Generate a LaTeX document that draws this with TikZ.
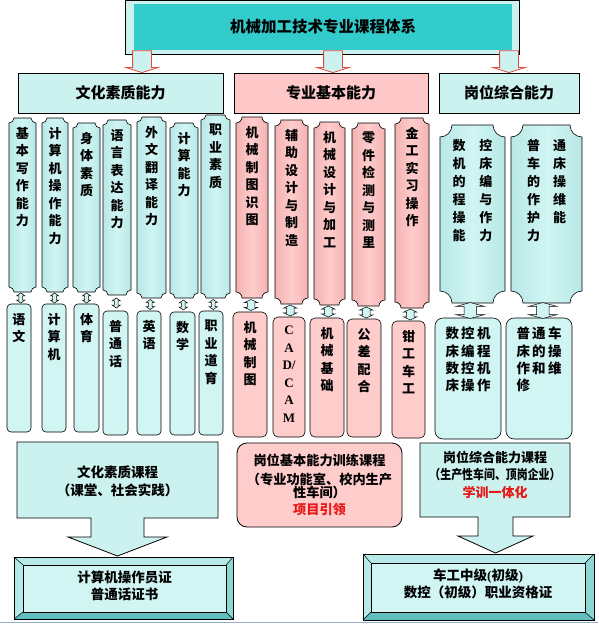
\documentclass[tikz,border=0pt]{standalone}
\usepackage{fontspec}
\usepackage{graphicx}
\usepackage{tikz}
\usetikzlibrary{calc,backgrounds,shapes.arrows}
\setmainfont{Noto Sans CJK SC}
\newfontfamily\latinserif{Liberation Serif}

\definecolor{boxcyan}{RGB}{208,245,243}
\definecolor{edgecyan}{RGB}{184,232,230}
\definecolor{boxpink}{RGB}{255,204,204}
\definecolor{edgepink}{RGB}{244,178,178}
\definecolor{cyanlt}{RGB}{204,242,240}
\definecolor{pinklt}{RGB}{255,200,200}
\definecolor{tealtitle}{RGB}{51,204,204}
\definecolor{redtxt}{RGB}{232,24,24}
\definecolor{redline}{RGB}{226,74,62}
\definecolor{bevellt}{RGB}{182,234,232}
\definecolor{bevelmd}{RGB}{140,214,212}
\definecolor{beveldk}{RGB}{96,190,190}
\definecolor{winline}{RGB}{150,172,204}

\begin{document}
\begin{tikzpicture}[x=1pt,y=-1pt,
  cbox/.style 2 args={anchor=north west, inner sep=0pt, outer sep=0pt,
    minimum width=#1, minimum height=#2},
  head/.style={draw, line width=.8pt, inner sep=0pt,
    font=\fontsize{15}{18}\selectfont\bfseries},
  vt/.style={anchor=north, yshift=-9pt, align=center, inner sep=0pt,
    font=\fontsize{13}{17.5}\selectfont\bfseries},
  vtwide/.style={vt, yshift=-5pt, align=left,
    font=\fontsize{13}{18}\selectfont\bfseries},
  lowbox/.style={draw, line width=.6pt, fill=boxcyan, rounded corners=4pt},
  lowpink/.style={lowbox, fill=boxpink, rounded corners=5pt},
  lowwide/.style={lowbox, rounded corners=8pt},
  bodytxt/.style={align=center, inner sep=0pt,
    font=\fontsize{13.5}{17.5}\selectfont\bfseries},
  certbox/.style={draw, line width=.8pt, fill=boxcyan},
  toparr/.style={single arrow, shape border rotate=270, anchor=tip,
    draw=redline, line width=.8pt, fill=cyanlt, inner sep=9pt,
    single arrow head extend=7pt, single arrow tip angle=145,
    minimum height=13},
  dblS/.style={double arrow, shape border rotate=90, draw, line width=.5pt,
    fill=boxcyan, inner sep=1.6pt, double arrow head extend=2.4pt,
    double arrow tip angle=110, minimum height=10},
  dblM/.style={dblS, inner sep=3.5pt, double arrow head extend=3pt,
    double arrow tip angle=130},
  dblL/.style={dblS, inner sep=6pt, double arrow head extend=8pt,
    double arrow tip angle=150, minimum height=9}]

\useasboundingbox (0,0) rectangle (598,624);

\node[fill=tealtitle, inner sep=0pt, minimum width=378, minimum height=46,
  font=\fontsize{15.5}{18}\selectfont\bfseries] (ttl) at (323,27)
  {机械加工技术专业课程体系};

\node[head, fill=cyanlt, cbox={205}{40}] (h1) at (18,73) {文化素质能力};
\node[head, fill=pinklt, cbox={194}{40}] (h2) at (234,73) {专业基本能力};
\node[head, fill=cyanlt, cbox={140}{40}] (h3) at (439,73) {岗位综合能力};

\node[toparr] (ar1) at ([xshift=21.5pt]h1.north) {};
\node[toparr] (ar2) at ([xshift=2pt]h2.north) {};
\node[toparr] (ar3) at (h3.north) {};

% upper row
\node[cbox={27}{174}, label={[vt]north:基\\本\\写\\作\\能\\力}] (a1) at (9,118) {};
\node[cbox={26}{174}, label={[vt]north:计\\算\\机\\操\\作\\能\\力}] (a2) at (42,118) {};
\node[cbox={27}{169}, label={[vt]north:身\\体\\素\\质}] (a3) at (73,123) {};
\node[cbox={28}{175}, label={[vt]north:语\\言\\表\\达\\能\\力}] (a4) at (103,120) {};
\node[cbox={29}{181}, label={[vt]north:外\\文\\翻\\译\\能\\力}] (a5) at (137,117) {};
\node[cbox={28}{175}, label={[vt]north:计\\算\\能\\力}] (a6) at (170,123) {};
\node[cbox={29}{183}, label={[vt]north:职\\业\\素\\质}] (a7) at (201,115) {};

\node[cbox={32}{181}, label={[vt]north:机\\械\\制\\图\\识\\图}] (c1) at (236,117) {};
\node[cbox={33}{184}, label={[vt]north:辅\\助\\设\\计\\与\\制\\造}] (c2) at (275,120) {};
\node[cbox={31}{183}, label={[vt]north:机\\械\\设\\计\\与\\加\\工}] (c3) at (314,122) {};
\node[cbox={33}{183}, label={[vt]north:零\\件\\检\\测\\与\\测\\里}] (c4) at (352,123) {};
\node[cbox={34}{190}, label={[vt]north:金\\工\\实\\习\\操\\作}] (c5) at (395,118) {};

\node[cbox={65}{178}, label={[vtwide]north:数\hspace{14pt}控\\机\hspace{14pt}床\\的\hspace{14pt}编\\程\hspace{14pt}与\\操\hspace{14pt}作\\能\hspace{14pt}力}] (e1) at (440,125) {};
\node[cbox={71}{178}, label={[vtwide]north:普\hspace{13pt}通\\车\hspace{13pt}床\\的\hspace{13pt}操\\作\hspace{13pt}维\\护\hspace{13pt}能\\力}] (e2) at (511,125) {};

% lower row
\node[lowbox, cbox={24}{128}, label={[vt]north:语\\文}] (b1) at (7,304) {};
\node[lowbox, cbox={24}{128}, label={[vt]north:计\\算\\机}] (b2) at (42,304) {};
\node[lowbox, cbox={25}{128}, label={[vt]north:体\\育}] (b3) at (74,304) {};
\node[lowbox, cbox={25}{124}, label={[vt]north:普\\通\\话}] (b4) at (103,311) {};
\node[lowbox, cbox={24}{124}, label={[vt]north:英\\语}] (b5) at (137,311) {};
\node[lowbox, cbox={25}{123}, label={[vt]north:数\\学}] (b6) at (170,312) {};
\node[lowbox, cbox={24}{124}, label={[vt]north:职\\业\\道\\育}] (b7) at (199,311) {};

\node[lowpink, cbox={34}{125}, label={[vt]north:机\\械\\制\\图}] (d1) at (233,312) {};
\node[lowpink, cbox={32}{120}, label={[vt, font=\latinserif\fontsize{13}{17.5}\selectfont\bfseries]north:C\\A\\D/\\C\\A\\M}] (d2) at (273,317) {};
\node[lowpink, cbox={34}{119}, label={[vt]north:机\\械\\基\\础}] (d3) at (310,318) {};
\node[lowpink, cbox={34}{118}, label={[vt]north:公\\差\\配\\合}] (d4) at (347,319) {};
\node[lowpink, cbox={33}{117}, label={[vt]north:钳\\工\\车\\工}] (d5) at (392,321) {};

\node[lowwide, cbox={66}{121}, label={[vt, align=left, font=\fontsize{13.5}{17.3}\selectfont\bfseries]north:数\,控\,机\\床\,编\,程\\数\,控\,机\\床\,操\,作}] (f1) at (435,318) {};
\node[lowwide, cbox={66}{121}, label={[vt, align=left, font=\fontsize{13.5}{17.3}\selectfont\bfseries]north:普\,通\,车\\床\,的\,操\\作\,和\,维\\修}] (f2) at (506,318) {};

\foreach \u/\v in {a1/b1,a2/b2,a3/b3,a4/b4,a5/b5,a6/b6,a7/b7}
  \node[dblS] (s\u) at ($(\u.south)!.5!(\v.north)$) {};
\foreach \u/\v in {c1/d1,c2/d2,c3/d3,c4/d4,c5/d5}
  \node[dblM] (s\u) at ($(\u.south)!.5!(\v.north)$) {};
\foreach \u/\v in {e1/f1,e2/f2}
  \node[dblL] (s\u) at ($(\u.south)!.5!(\v.north)$) {};

% course blocks
\draw[line width=.8pt, fill=cyanlt]
  (17,442) -- (218,442) -- (218,518) -- (144,518) -- (144,537) -- (167,537)
  -- (117.5,556) -- (68,537) -- (91,537) -- (91,518) -- (17,518) -- cycle;
\draw[line width=.8pt, fill=cyanlt]
  (420,443) -- (570,443) -- (570,517) -- (513,517) -- (513,536) -- (533,536)
  -- (495.5,553) -- (458,536) -- (478,536) -- (478,517) -- (420,517) -- cycle;

\node[bodytxt, font=\fontsize{13.5}{18}\selectfont\bfseries] (crs1) at (117.5,481)
  {文化素质课程\\（课堂、社会实践）};
\node[bodytxt, font=\fontsize{13}{17.5}\selectfont\bfseries] (crs2) at (495,474.5)
  {岗位综合能力课程\\\scalebox{.84}[1]{（生产性车间、顶岗企业）}\\\textcolor{redtxt}{学训一体化}};

\node[draw, line width=.8pt, fill=boxpink, rounded corners=10pt, cbox={165}{84},
  align=center, font=\fontsize{13.2}{17}\selectfont\bfseries] (trn) at (237,443)
  {岗位基本能力训练课程\\[2pt]（专业功能室、校内生产\\[-4pt]性车间）\\\textcolor{redtxt}{项目引领}};

\node[certbox, cbox={203}{47}] (crt1) at (23,565) {};
\node[certbox, cbox={214}{49}] (crt2) at (371,563) {};
\node[bodytxt, font=\fontsize{13.5}{17}\selectfont\bfseries] (crt1t) at ([yshift=3pt]crt1.center)
  {计算机操作员证\\普通话证书};
\node[bodytxt, font=\fontsize{13.5}{17}\selectfont\bfseries] (crt2t) at ([yshift=4pt]crt2.center)
  {车工中级{\latinserif\bfseries(}初级{\latinserif\bfseries)}\\数控（初级）职业资格证};

\draw[winline, line width=1.5pt] (0,622.5) -- (598,622.5);

\begin{scope}[on background layer]
\draw[line width=.8pt, fill=cyanlt]
  ([shift={(-8,-3.5)}]ttl.north west) rectangle ([shift={(7,4)}]ttl.south east);

\foreach \n/\r/\col in {a1/5/cyan,a2/5/cyan,a3/5/cyan,a4/5/cyan,a5/5/cyan,
    a6/5/cyan,a7/5/cyan,c1/6/pink,c2/6/pink,c3/6/pink,c4/6/pink,c5/6/pink,
    e1/12/cyan,e2/12/cyan}
  \draw[line width=.6pt, left color=edge\col, right color=edge\col, middle color=box\col]
    ($(\n.north west)+(0,\r)$)
    .. controls ($(\n.north west)+(.55*\r,\r)$) and ($(\n.north west)+(\r,.55*\r)$) ..
    ($(\n.north west)+(\r,0)$)
    -- ($(\n.north east)+(-\r,0)$)
    .. controls ($(\n.north east)+(-\r,.55*\r)$) and ($(\n.north east)+(-.55*\r,\r)$) ..
    ($(\n.north east)+(0,\r)$)
    -- ($(\n.south east)+(0,-\r)$)
    .. controls ($(\n.south east)+(-.55*\r,-\r)$) and ($(\n.south east)+(-\r,-.55*\r)$) ..
    ($(\n.south east)+(-\r,0)$)
    -- ($(\n.south west)+(\r,0)$)
    .. controls ($(\n.south west)+(\r,-.55*\r)$) and ($(\n.south west)+(.55*\r,-\r)$) ..
    ($(\n.south west)+(0,-\r)$)
    -- cycle;

\foreach \n/\l/\t/\rr/\b in {crt1/9/8/7/7,crt2/8/9/9/8} {
  \coordinate (o1) at ([shift={(-\l,-\t)}]\n.north west);
  \coordinate (o2) at ([shift={(\rr,-\t)}]\n.north east);
  \coordinate (o3) at ([shift={(\rr,\b)}]\n.south east);
  \coordinate (o4) at ([shift={(-\l,\b)}]\n.south west);
  \fill[bevellt] (o1) rectangle (o3);
  \fill[bevelmd] (o3) -- (\n.south east) -- (\n.north east) -- (o2) -- cycle;
  \fill[beveldk] (o4) -- (\n.south west) -- (\n.south east) -- (o3) -- cycle;
  \draw[line width=.8pt] (o1) rectangle (o3);
  \draw[line width=.5pt]
    (o1) -- (\n.north west) (o2) -- (\n.north east)
    (o3) -- (\n.south east) (o4) -- (\n.south west);
}
\end{scope}

\end{tikzpicture}
\end{document}
